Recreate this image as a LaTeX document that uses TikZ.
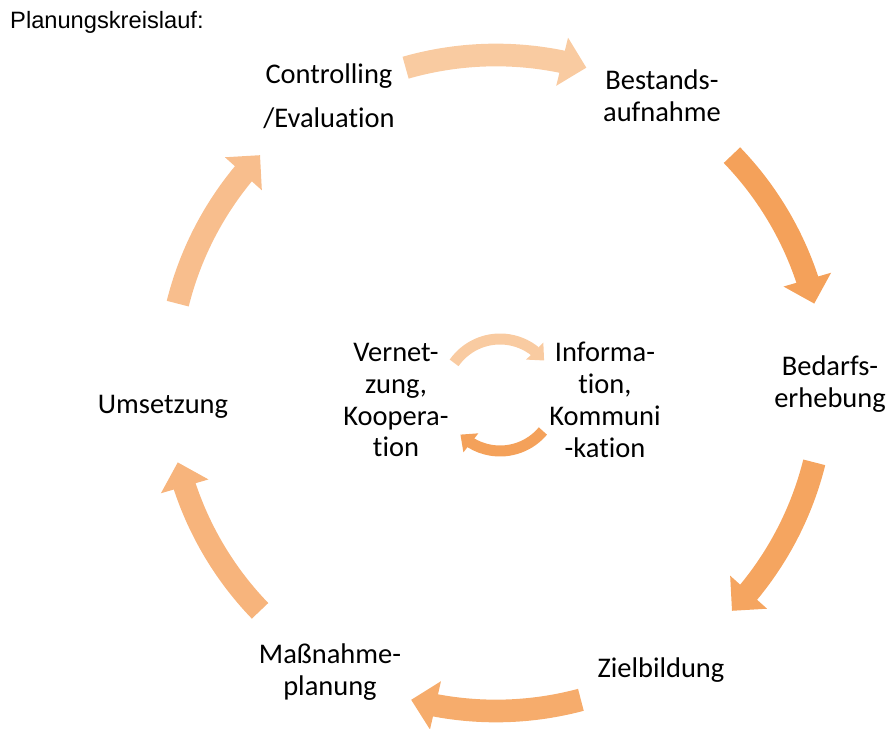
\documentclass[tikz,border=0pt]{standalone}
\usepackage{fontspec}
\setmainfont{Carlito}[Ligatures=NoCommon]
\newfontfamily\titlefont{Liberation Sans}
\usepackage{tikz}
\usetikzlibrary{arrows.meta,bending,calc}

\definecolor{arrA}{HTML}{F9CBA1}
\definecolor{arrB}{HTML}{F4A15A}
\definecolor{arrC}{HTML}{F5A560}
\definecolor{arrD}{HTML}{F6AC6C}
\definecolor{arrE}{HTML}{F7B47C}
\definecolor{arrF}{HTML}{F8BE8D}

\begin{document}
\begin{tikzpicture}[x=0.03cm, y=0.03cm,
  stage/.style={align=center, inner sep=0pt, font=\fontsize{24.3}{27.3}\selectfont},
  bigarc/.style={line width=0.68cm, -{Triangle[width=1.44cm, length=0.75cm]}},
  smallarc/.style={line width=0.33cm, -{Triangle[width=0.7cm, length=0.4cm]}},
]
  \useasboundingbox (0,0) rectangle (887,729);
  \node[anchor=west, inner sep=0pt, font=\titlefont\fontsize{20.2}{24}\selectfont] (title) at (10,707) {Planungskreislauf:};

  % Steps of the cycle, clockwise from the top left.
  \coordinate (hub) at (496,346);
  \node[stage] (ctrl)    at (329,633) {Controlling\\[10pt]/Evaluation};
  \node[stage] (bestand) at (662,633) {Bestands-\\aufnahme};
  \node[stage] (bedarf)  at (830,345) {Bedarfs-\\erhebung};
  \node[stage] (ziel)    at (661,59)  {Zielbildung};
  \node[stage] (massn)   at (330,57)  {Maßnahme-\\planung};
  \node[stage] (umsetz)  at (163,322) {Umsetzung};

  % Curved arrows between the steps.
  \foreach \s/\e/\col in {106/74/arrA, 44/14/arrB, -14/-44/arrC,
                          -75/-105/arrD, -136/-166/arrE, 166/136/arrF}
    \draw[bigarc, draw=\col] ($(hub)+(\s:328)$) arc[start angle=\s, end angle=\e, radius=328];

  % Inner loop.
  \coordinate (core) at (500,334);
  \node[stage] (vernetz) at (396,329) {Vernet-\\zung,\\Koopera-\\tion};
  \node[stage] (info)    at (605,329) {Informa-\\tion,\\Kommuni\\-kation};
  \draw[smallarc, draw=arrA] ($(core)+(145:56)$) arc[start angle=145, end angle=38, radius=56];
  \draw[smallarc, draw=arrB] ($(core)+(-40:56)$) arc[start angle=-40, end angle=-135, radius=56];
\end{tikzpicture}
\end{document}
